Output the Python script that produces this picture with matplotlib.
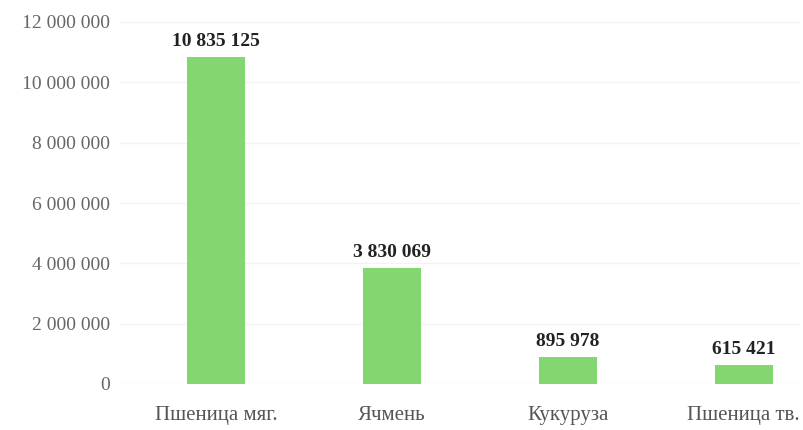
import matplotlib.pyplot as plt
from matplotlib.ticker import FuncFormatter

# валовой сбор по культурам, тонн
crops = ["Пшеница мяг.", "Ячмень", "Кукуруза", "Пшеница тв."]
harvest = [10835125, 3830069, 895978, 615421]
y_ticks = [0, 2000000, 4000000, 6000000, 8000000, 10000000, 12000000]


def fmt_num(v):
    return "{:,}".format(int(v)).replace(",", " ")


plt.rcParams['font.family'] = ['Liberation Serif', 'DejaVu Serif']

fig = plt.figure(figsize=(8.04, 4.30), dpi=100)
ax = fig.add_axes([120 / 804, 1 - 384 / 430, 680 / 804, (384 - 22) / 430])

x = list(range(len(crops)))
ax.bar(x, harvest, width=0.33, color="#84d770", zorder=2)

# подписи значений над столбцами
for xi, v in zip(x, harvest):
    ax.annotate(fmt_num(v), (xi, v), xytext=(0, 8), textcoords="offset points",
                ha="center", va="baseline", fontsize=14, fontweight="bold", color="#222222")

ax.set_xlim(-0.545, 3.32)
ax.set_ylim(0, 12000000)
ax.set_yticks(y_ticks)
ax.yaxis.set_major_formatter(FuncFormatter(lambda v, p: fmt_num(v)))
ax.set_xticks(x)
ax.set_xticklabels(crops)

ax.grid(axis="y", color="#f3f3f3", linewidth=1, zorder=0)
for s in ax.spines.values():
    s.set_visible(False)
ax.tick_params(axis="both", length=0)
ax.tick_params(axis="y", labelsize=14, pad=7, labelcolor="#666666")
ax.tick_params(axis="x", labelsize=15, pad=16, labelcolor="#555555")

fig.savefig("out.png", dpi=100)
